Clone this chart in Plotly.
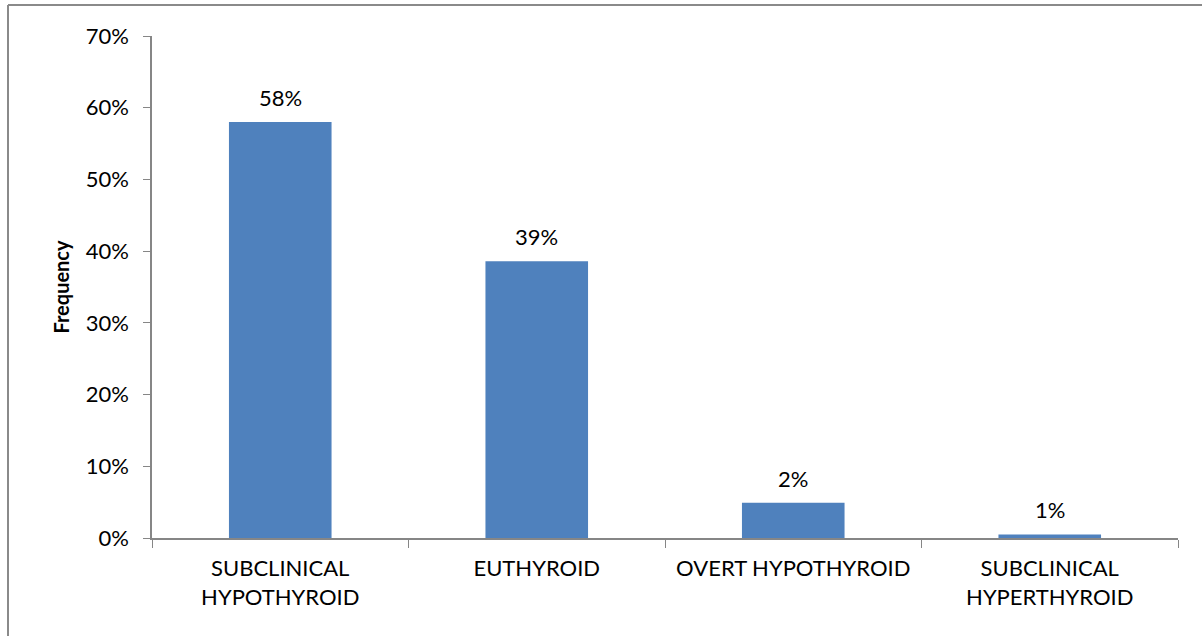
import plotly.graph_objects as go

categories = ["SUBCLINICAL<br>HYPOTHYROID", "EUTHYROID", "OVERT HYPOTHYROID", "SUBCLINICAL<br>HYPERTHYROID"]
values = [58.0, 38.6, 4.9, 0.5]
labels = ["58%", "39%", "2%", "1%"]
yticks = [0, 10, 20, 30, 40, 50, 60, 70]
yticklabels = ["0%", "10%", "20%", "30%", "40%", "50%", "60%", "70%"]

FONT = "Lato, Open Sans, sans-serif"
AX = "#868686"
FS = 22

fig = go.Figure(go.Bar(x=categories, y=values, marker=dict(color="#4F81BD", line=dict(width=0)),
                       hoverinfo="skip"))

for c, v, t in zip(categories, values, labels):
    fig.add_annotation(x=c, y=v, text=t, showarrow=False, yanchor="bottom", yshift=9,
                       font=dict(family=FONT, size=FS, color="#000"))

W, H = 1202, 636
L, R, T, B = 152, 24, 36, 98
pw = W - L - R
ph = H - T - B
bx = (8 - L) / pw
by = 1 + (T - 5) / ph

fig.add_shape(type="line", xref="paper", yref="paper", x0=bx, x1=bx, y0=-1, y1=by,
              line=dict(color="#8a8a8a", width=2))
fig.add_shape(type="line", xref="paper", yref="paper", x0=bx, x1=2, y0=by, y1=by,
              line=dict(color="#8a8a8a", width=2))

fig.update_layout(
    width=W, height=H,
    margin=dict(l=L, r=R, t=T, b=B),
    plot_bgcolor="white", paper_bgcolor="white",
    bargap=0.6,
    showlegend=False,
    font=dict(family=FONT, size=FS, color="#000"),
    xaxis=dict(type="category", tickson="boundaries", ticks="outside", ticklen=8, tickcolor=AX,
               showline=True, linecolor=AX, linewidth=1.5, showgrid=False,
               ticklabelstandoff=10,
               tickfont=dict(family=FONT, size=FS)),
    yaxis=dict(range=[0, 70], tickvals=yticks, ticktext=yticklabels, ticks="outside", ticklen=7,
               tickcolor=AX, showline=True, linecolor=AX, linewidth=1.5, showgrid=False,
               zeroline=False, ticklabelstandoff=10, tickfont=dict(family=FONT, size=FS),
               title=dict(text="<b>Frequency</b>", font=dict(family=FONT, size=20), standoff=11)),
)

fig.write_html("out.html", config={"displayModeBar": False},
               post_script="document.body.style.margin='0';")
